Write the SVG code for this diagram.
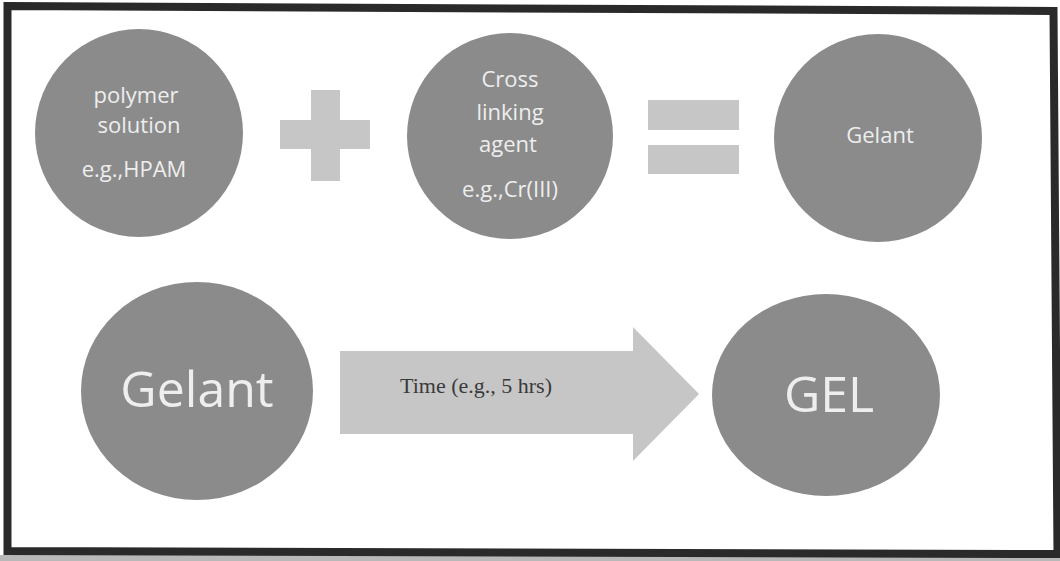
<svg xmlns="http://www.w3.org/2000/svg" width="1060" height="561" viewBox="0 0 1060 561">
  <style>
    .node { fill: #8b8b8b; }
    .sym { fill: #c6c6c6; }
    .lbl { font-family: "Open Sans", "Noto Sans", sans-serif; fill: #eeeeee; text-anchor: middle; }
    .small { font-size: 22px; }
    .big { font-size: 50px; }
    .time { font-family: "Liberation Serif", "Times New Roman", serif; font-size: 22px; fill: #3a3a3a; }
  </style>
  <rect x="0" y="0" width="1060" height="561" fill="#ffffff"/>
  <rect x="0" y="555" width="1060" height="6" fill="#b8b8b8"/>
  <polygon points="7.5,6 1053.5,11 1057.5,554 7.5,551" fill="none" stroke="#2a2a2a" stroke-width="8" stroke-linejoin="miter"/>

  <g id="polymer">
    <circle class="node" cx="139" cy="133" r="104"/>
    <text class="lbl small" x="136" y="103">polymer</text>
    <text class="lbl small" x="139" y="133">solution</text>
    <text class="lbl small" x="134" y="177">e.g.,HPAM</text>
  </g>
  <g id="plus">
    <rect class="sym" x="311" y="90" width="29" height="91"/>
    <rect class="sym" x="280" y="120" width="90" height="29"/>
  </g>
  <g id="crosslinker">
    <circle class="node" cx="510" cy="136" r="103"/>
    <text class="lbl small" x="510" y="87">Cross</text>
    <text class="lbl small" x="510" y="120">linking</text>
    <text class="lbl small" x="508" y="152">agent</text>
    <text class="lbl small" x="510" y="197">e.g.,Cr(III)</text>
  </g>
  <g id="equals">
    <rect class="sym" x="648" y="100" width="91" height="30"/>
    <rect class="sym" x="648" y="145" width="91" height="29"/>
  </g>
  <g id="gelant1">
    <circle class="node" cx="878" cy="138" r="104"/>
    <text class="lbl small" x="880" y="143">Gelant</text>
  </g>
  <g id="gelant2">
    <ellipse class="node" cx="197" cy="391" rx="116" ry="109"/>
    <text class="lbl big" x="197" y="407">Gelant</text>
  </g>
  <g id="gel">
    <ellipse class="node" cx="826" cy="395" rx="114" ry="101"/>
    <text class="lbl big" x="829" y="412">GEL</text>
  </g>
  <g id="connectors">
    <polygon class="sym" points="340,351 633,351 633,327 699,394 633,461 633,434 340,434"/>
    <text class="time" x="400" y="393">Time (e.g., 5 hrs)</text>
  </g>
</svg>
